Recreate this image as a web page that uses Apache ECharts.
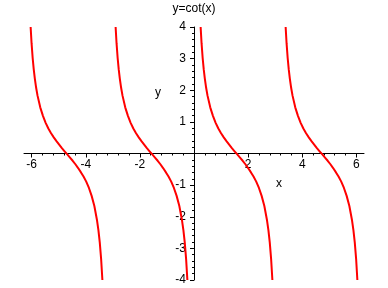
<!DOCTYPE html>
<html>
<head>
<meta charset="utf-8">
<script src="https://cdn.jsdelivr.net/npm/echarts@6/dist/echarts.min.js"></script>
<style>
html,body{margin:0;padding:0;background:#fff;}
#chart{width:388px;height:288px;}
</style>
</head>
<body>
<div id="chart"></div>
<script>
var cotValues = [4.0, 3.48, 3.02, 2.66, 2.37, 2.07, 1.83, 1.46, 1.19, 0.97, 0.79, 0.64, 0.51, 0.39, 0.28, 0.17, 0.07, -0.03, -0.13, -0.23, -0.34, -0.46, -0.59, -0.73, -0.89, -1.09, -1.34, -1.66, -2.12, -2.42, -2.81, -3.33, -4.0];
var branch1X = [-6.038, -6.003, -5.963, -5.923, -5.883, -5.833, -5.783, -5.683, -5.583, -5.483, -5.383, -5.283, -5.183, -5.083, -4.983, -4.883, -4.783, -4.683, -4.583, -4.483, -4.383, -4.283, -4.183, -4.083, -3.983, -3.883, -3.783, -3.683, -3.583, -3.533, -3.483, -3.433, -3.386];
var branch2X = [-2.897, -2.862, -2.822, -2.782, -2.742, -2.692, -2.642, -2.542, -2.442, -2.342, -2.242, -2.142, -2.042, -1.942, -1.842, -1.742, -1.642, -1.542, -1.442, -1.342, -1.242, -1.142, -1.042, -0.942, -0.842, -0.742, -0.642, -0.542, -0.442, -0.392, -0.342, -0.292, -0.245];
var branch3X = [0.245, 0.28, 0.32, 0.36, 0.4, 0.45, 0.5, 0.6, 0.7, 0.8, 0.9, 1.0, 1.1, 1.2, 1.3, 1.4, 1.5, 1.6, 1.7, 1.8, 1.9, 2.0, 2.1, 2.2, 2.3, 2.4, 2.5, 2.6, 2.7, 2.75, 2.8, 2.85, 2.897];
var branch4X = [3.387, 3.422, 3.462, 3.502, 3.542, 3.592, 3.642, 3.742, 3.842, 3.942, 4.042, 4.142, 4.242, 4.342, 4.442, 4.542, 4.642, 4.742, 4.842, 4.942, 5.042, 5.142, 5.242, 5.342, 5.442, 5.542, 5.642, 5.742, 5.842, 5.892, 5.942, 5.992, 6.038];

var xMajorTicks = [-6, -4, -2, 2, 4, 6];
var xMinorTicks = [-5.6, -5.2, -4.8, -4.4, -3.6, -3.2, -2.8, -2.4, -1.6, -1.2, -0.8, -0.4, 0.4, 0.8, 1.2, 1.6, 2.4, 2.8, 3.2, 3.6, 4.4, 4.8, 5.2, 5.6];
var xMin = -6.2832, xMax = 6.2832;
var yMin = -4, yMax = 4;
var titleText = 'y=cot(x)';
var xName = 'x', yName = 'y';

var FONT = '"Liberation Sans", Arial, sans-serif';
function pairs(xs, ys){ return xs.map(function(x,i){ return [x, ys[i]]; }); }
var branches = [branch1X, branch2X, branch3X, branch4X];

// plot box
var L = 24, R = 24, T = 27, B = 8, W = 388, H = 288;
var plotW = W - L - R, plotH = H - T - B;
// pixel offsets where the zero lines fall (derived from the axis ranges)
var zeroYpx = T + plotH * (yMax - 0) / (yMax - yMin);
var zeroXpx = L + plotW * (0 - xMin) / (xMax - xMin);

var hidden = {show: false};
function hiddenAxis(type, grid, min, max){
  return {type: type, gridIndex: grid, min: min, max: max, axisLine: hidden, axisTick: hidden, axisLabel: hidden, splitLine: hidden};
}

var chart = echarts.init(document.getElementById('chart'), null, {renderer:'canvas'});
chart.setOption({
  animation: false,
  backgroundColor: '#ffffff',
  title: {
    text: titleText, left: 'center', top: -2,
    textStyle: {fontFamily: FONT, fontSize: 12, fontWeight: 'normal', color: '#000'}
  },
  grid: [
    {left: L, right: R, top: T, bottom: B, containLabel: false, outerBoundsMode: 'none'},
    {left: L, right: R, top: T, height: zeroYpx - T, containLabel: false, outerBoundsMode: 'none'},
    {left: zeroXpx, right: R, top: T, bottom: B, containLabel: false, outerBoundsMode: 'none'}
  ],
  xAxis: [
    hiddenAxis('value', 0, xMin, xMax),
    {
      type: 'value', gridIndex: 1, min: xMin, max: xMax, position: 'bottom',
      axisLine: {show: true, onZero: false, lineStyle: {color: '#000', width: 1}},
      axisTick: {show: true, customValues: xMajorTicks, length: 4, lineStyle: {color: '#000'}},
      axisLabel: {show: true, customValues: xMajorTicks, margin: 5, fontFamily: FONT, fontSize: 12, color: '#000'},
      splitLine: hidden
    },
    {
      type: 'value', gridIndex: 1, min: xMin, max: xMax, position: 'bottom',
      axisLine: {show: false, onZero: false},
      axisTick: {show: true, customValues: xMinorTicks, length: 2, lineStyle: {color: '#000'}},
      axisLabel: hidden, splitLine: hidden
    },
    hiddenAxis('value', 2, 0, 1)
  ],
  yAxis: [
    hiddenAxis('value', 0, yMin, yMax),
    hiddenAxis('value', 1, 0, 1),
    {
      type: 'value', gridIndex: 2, min: yMin, max: yMax, interval: 1, position: 'left',
      axisLine: {show: true, onZero: false, lineStyle: {color: '#000', width: 1}},
      axisTick: {show: true, length: 4, lineStyle: {color: '#000'}},
      minorTick: {show: true, splitNumber: 5, length: 2, lineStyle: {color: '#000'}},
      axisLabel: {margin: 8, fontFamily: FONT, fontSize: 12, color: '#000',
        formatter: function(v){ return v === 0 ? '' : String(v); }},
      splitLine: hidden
    }
  ],
  graphic: [
    {type: 'text', left: 155, top: 87, style: {text: yName, font: '12px ' + FONT, fill: '#000'}},
    {type: 'text', left: 276, top: 178, style: {text: xName, font: '12px ' + FONT, fill: '#000'}}
  ],
  series: branches.map(function(xs){
    return {
      type: 'line', xAxisIndex: 0, yAxisIndex: 0,
      data: pairs(xs, cotValues),
      showSymbol: false, symbol: 'none', smooth: false, clip: true,
      lineStyle: {color: '#ff0000', width: 2},
      itemStyle: {color: '#ff0000'}
    };
  })
});
</script>
</body>
</html>
